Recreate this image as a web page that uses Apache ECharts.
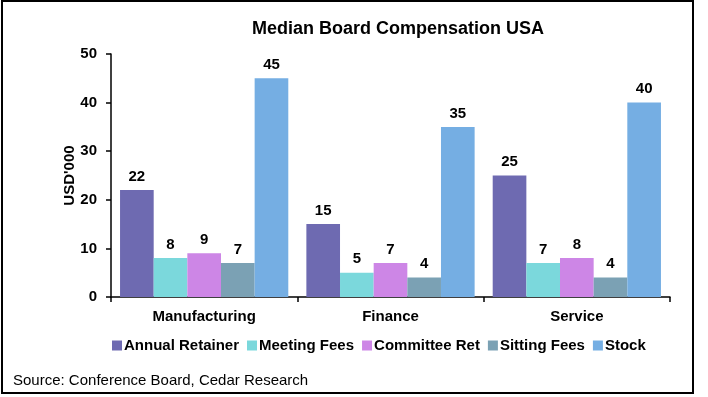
<!DOCTYPE html>
<html>
<head>
<meta charset="utf-8">
<script src="https://cdn.jsdelivr.net/npm/echarts@6/dist/echarts.min.js"></script>
<style>
  html, body { margin: 0; padding: 0; background: #fff; }
  #main { width: 708px; height: 397px; }
</style>
</head>
<body>
<div id="main"></div>
<script>
  // data
  var categories = ['Manufacturing', 'Finance', 'Service'];
  var seriesNames = ['Annual Retainer', 'Meeting Fees', 'Committee Ret', 'Sitting Fees', 'Stock'];
  var annualRetainer = [22, 15, 25];
  var meetingFees = [8, 5, 7];
  var committeeRet = [9, 7, 8];
  var sittingFees = [7, 4, 4];
  var stock = [45, 35, 40];
  var yTicks = [0, 10, 20, 30, 40, 50];

  var colors = ['#6E6AB1', '#7BD8DC', '#CD86E6', '#7BA1B4', '#75AEE3'];
  var values = [annualRetainer, meetingFees, committeeRet, sittingFees, stock];
  var font = 'Arial, "Liberation Sans", sans-serif';

  var chart = echarts.init(document.getElementById('main'));

  var series = seriesNames.map(function (name, i) {
    return {
      name: name,
      type: 'bar',
      data: values[i],
      barGap: '0%',
      barCategoryGap: '9.7%',
      itemStyle: { color: colors[i] },
      label: {
        show: true,
        position: 'top',
        distance: 6,
        color: '#000',
        fontWeight: 'bold',
        fontSize: 15,
        fontFamily: font
      }
    };
  });

  var option = {
    animation: false,
    color: colors,
    title: {
      text: 'Median Board Compensation USA',
      left: 398,
      top: 20,
      padding: 0,
      textAlign: 'center',
      textStyle: { fontSize: 18, fontWeight: 'bold', color: '#000', fontFamily: font }
    },
    legend: {
      data: seriesNames,
      left: 112,
      top: 338,
      padding: 0,
      icon: 'rect',
      itemWidth: 10,
      itemHeight: 10,
      itemGap: 8,
      textStyle: { fontSize: 15, fontWeight: 'bold', color: '#000', fontFamily: font, padding: [0, 0, 0, -3] }
    },
    grid: { left: 111, right: 38, top: 54, bottom: 100, containLabel: false },
    xAxis: {
      type: 'category',
      data: categories,
      axisLine: { lineStyle: { color: '#000', width: 1.5 } },
      axisTick: { show: true, length: 5, lineStyle: { color: '#000', width: 1.5 } },
      axisLabel: { color: '#000', fontWeight: 'bold', fontSize: 15, fontFamily: font, margin: 12 }
    },
    yAxis: {
      type: 'value',
      min: yTicks[0],
      max: yTicks[yTicks.length - 1],
      interval: yTicks[1] - yTicks[0],
      name: "USD'000",
      nameLocation: 'middle',
      nameGap: 34,
      nameMoveOverlap: false,
      nameTextStyle: { color: '#000', fontWeight: 'bold', fontSize: 15, fontFamily: font },
      splitLine: { show: false },
      axisLine: { show: true, lineStyle: { color: '#000', width: 1.5 } },
      axisTick: { show: true, length: 5, lineStyle: { color: '#000', width: 1.5 } },
      axisLabel: { color: '#000', fontWeight: 'bold', fontSize: 15, fontFamily: font, margin: 14 }
    },
    graphic: [
      {
        type: 'rect',
        shape: { x: 2, y: 1, width: 691, height: 392 },
        style: { fill: 'none', stroke: '#000', lineWidth: 2 },
        silent: true
      },
      {
        type: 'text',
        left: 13,
        top: 373,
        style: {
          text: 'Source: Conference Board, Cedar Research',
          fontSize: 15,
          fontFamily: font,
          fill: '#000'
        }
      }
    ],
    series: series
  };

  chart.setOption(option);
</script>
</body>
</html>
